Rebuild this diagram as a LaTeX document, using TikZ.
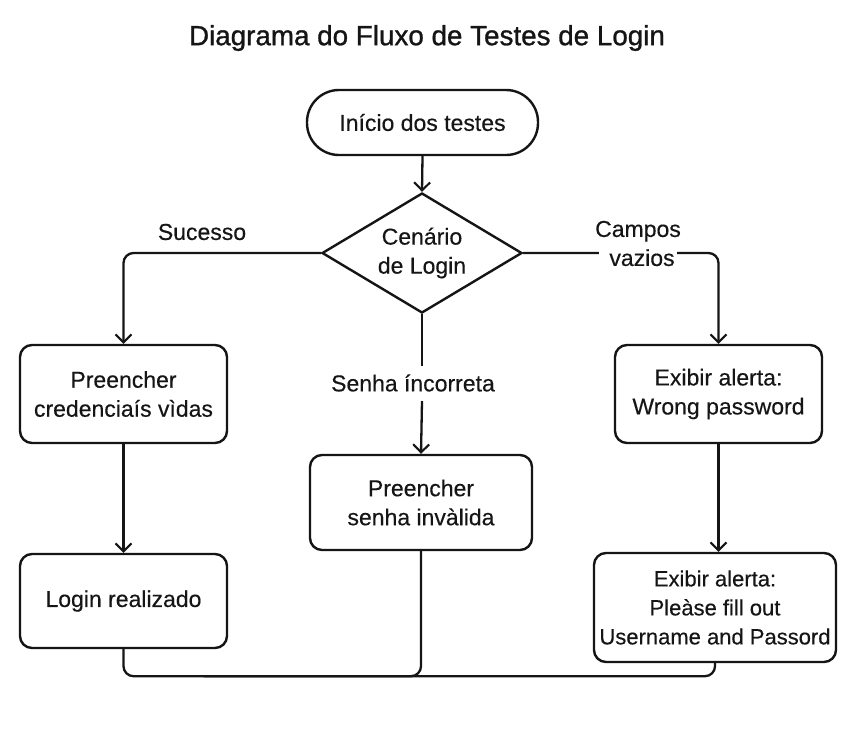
\documentclass[tikz,border=0pt]{standalone}
\usepackage{fontspec}
\setmainfont{Liberation Sans}[FakeBold=0.35]
\newfontfamily\titlefont{Liberation Sans}[FakeBold=1.0]
\usetikzlibrary{shapes.geometric,arrows.meta,calc}
\definecolor{ink}{HTML}{151515}
\begin{document}
\begin{tikzpicture}[x=1pt,y=-1pt,
  every node/.style={text=ink},
  body/.style={font=\fontsize{23}{29}\selectfont},
  boxnode/.style={draw=ink,line width=2.4pt,rounded corners=12pt,align=center,body,inner sep=0pt},
  conn/.style={draw=ink,line width=2.3pt,rounded corners=10pt},
  arr/.style={conn,-{Straight Barb[length=8pt,width=16pt,line width=2.1pt]}},
  lbl/.style={body,align=center,inner sep=0pt}]
\useasboundingbox[fill=white] (0,0) rectangle (845,737);
\node[font=\titlefont\fontsize{27.8}{32}\selectfont] (title) at (427,38) {Diagrama do Fluxo de Testes de Login};
\node[boxnode,rounded corners=32pt,minimum width=231pt,minimum height=65pt] (start) at (422.5,122.5) {Início dos testes};
\node[draw=ink,line width=2.4pt,shape=diamond,aspect=1.667,minimum width=200pt,minimum height=120pt,inner sep=0pt,align=center,body] (dia) at (422,253) {Cenário\\de Login};
\node[boxnode,minimum width=207pt,minimum height=98pt] (L1) at (123.5,394) {Preencher\\credenciaís vìdas};
\node[boxnode,minimum width=207pt,minimum height=94pt] (L2) at (123.5,601) {Login realizado};
\node[boxnode,minimum width=222pt,minimum height=95pt] (M) at (421,502.5) {Preencher\\senha invàlida};
\node[boxnode,minimum width=207pt,minimum height=98pt] (R1) at (718.5,394) {Exibir alerta:\\Wrong password};
\node[boxnode,minimum width=242pt,minimum height=109pt,font=\fontsize{22}{29}\selectfont] (R2) at (715,607.5) {Exibir alerta:\\Pleàse fill out\\Username and Passord};
\coordinate (m1) at (422,366);
\coordinate (m2) at (422,401);
\draw[arr] (start.south) -- (dia.north);
\draw[arr] (dia.west) -| (L1.north);
\draw[arr] (dia.east) -| (R1.north);
\draw[conn] (dia.south) -- (m1);
\draw[arr] (m2) -- (M.north);
\draw[arr] (L1.south) -- (L2.north);
\draw[arr] (R1.south) -- (R1.south |- R2.north);
\coordinate (bot) at ($(L2.south)+(0,27)$);
\draw[conn] (L2.south) -- (bot) -| (R2.south);
\draw[conn] (M.south) |- ($(bot)+(80,0)$);
\node[lbl] (suc) at (202,232) {Sucesso};
\node[lbl] (camp) at (638,245) {Campos\\\hbox to 0pt{\hss\colorbox{white}{\hspace{7pt}vazios\hspace{-1pt}}\hss}};
\node[lbl] (senha) at (413,383) {Senha íncorreta};
\end{tikzpicture}
\end{document}
